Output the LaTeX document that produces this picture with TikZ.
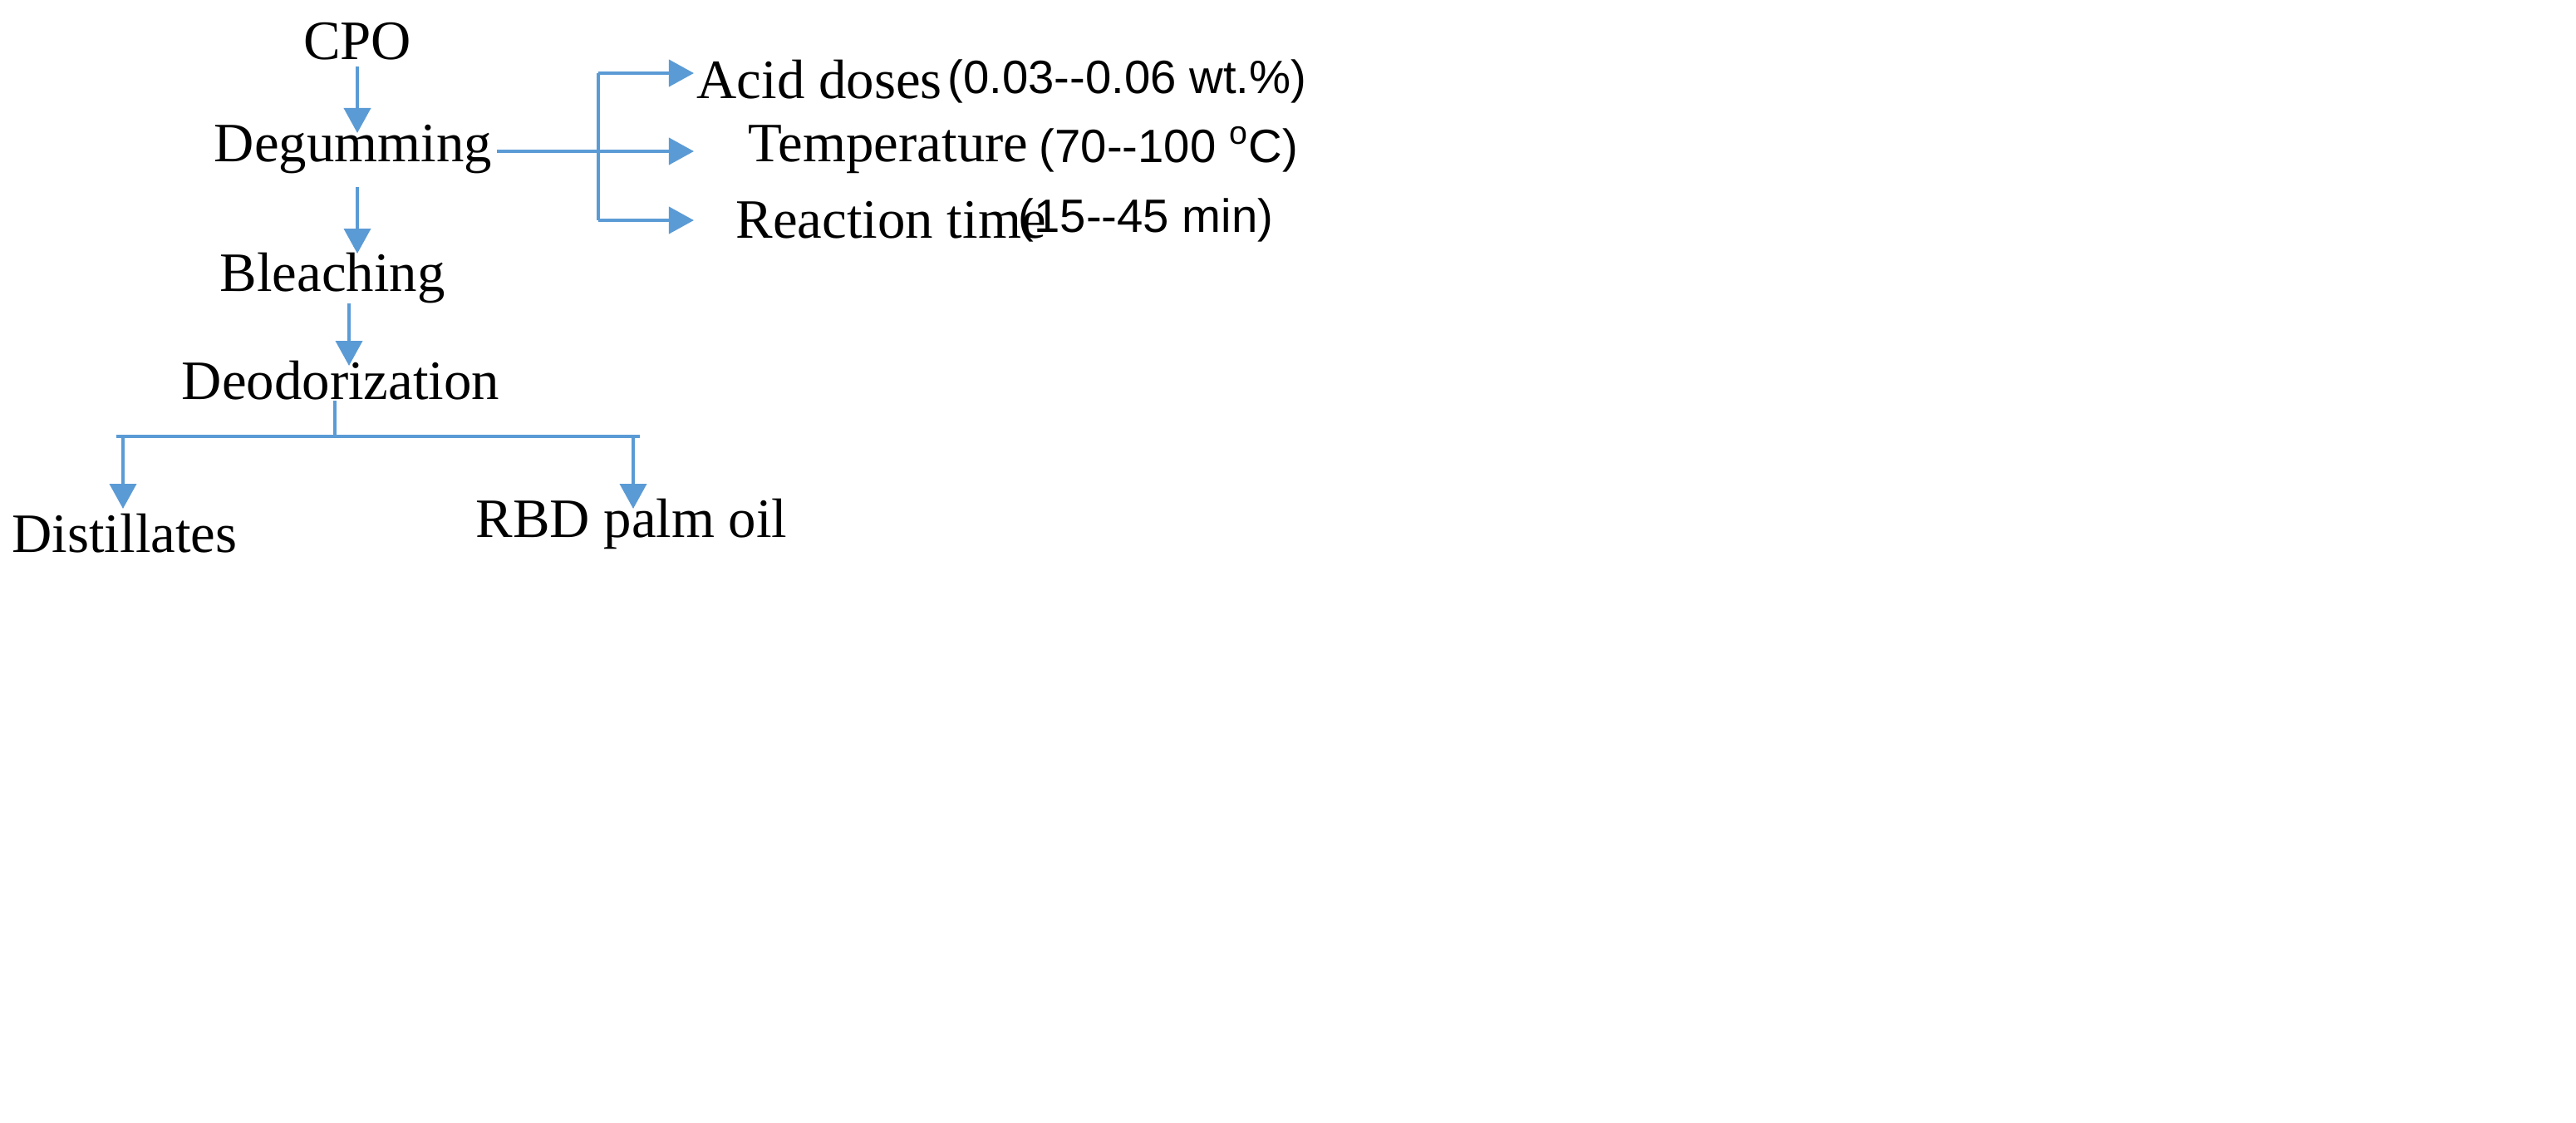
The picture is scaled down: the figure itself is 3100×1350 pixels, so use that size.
\documentclass[tikz,border=0pt]{standalone}
\usepackage{fontspec}
\setmainfont{Liberation Serif}
\newfontfamily\parfont{Liberation Sans}
\usetikzlibrary{arrows.meta,positioning}
\definecolor{flowblue}{RGB}{91,155,213}
\begin{document}
\begin{tikzpicture}[x=0.01cm,y=-0.01cm]
    \tikzstyle{stage} = [inner sep=0pt, font=\fontsize{19}{22}\selectfont]
    \tikzstyle{parname} = [inner sep=0pt, anchor=west, font=\fontsize{19}{22}\selectfont]
    \tikzstyle{condval} = [inner sep=0pt, anchor=west, font=\parfont\fontsize{16}{20}\selectfont]
    \tikzstyle{flowline} = [flowblue, line width=1.1pt]
    \tikzstyle{flowarrow} = [flowline, -{Triangle[length=0.3cm,width=0.32cm]}]
    \useasboundingbox (0,0) rectangle (3100,1350);

    \node [stage] (cpo) at (430,50) {CPO};
    \node [stage] (degum) at (425,180) {Degumming};
    \node [stage] (bleach) at (400,335) {Bleaching};
    \node [stage] (deodor) at (410,458) {Deodorization};
    \node [stage] (dist) at (150,642) {Distillates};
    \node [stage] (rbd) at (760,630) {RBD palm oil};

    \node [parname] (acid) at (838,96) {Acid doses};
    \node [parname] (temp) at (900,180) {Temperature};
    \node [parname] (time) at (885,265) {Reaction time};
    \node [condval] (acidr) at (1140,98) {(0.03--0.06 wt.\%)};
    \node [condval] (tempr) at (1250,180) {(70--100 \textsuperscript{o}C)};
    \node [condval] (timer) at (1225,265) {(15--45 min)};

    % degumming branch
    \coordinate (bt) at (720,88);
    \coordinate (bm) at (720,182);
    \coordinate (bb) at (720,265);
    \coordinate (dg) at (598,182);
    \draw [flowline] (dg) -- (bm);
    \draw [flowline] (bt) -- (bb);
    \draw [flowarrow] (bt) -- (835,88);
    \draw [flowarrow] (bm) -- (835,182);
    \draw [flowarrow] (bb) -- (835,265);

    % main line
    \draw [flowarrow] (430,80) -- (430,160);
    \draw [flowarrow] (430,225) -- (430,305);
    \draw [flowarrow] (420,365) -- (420,440);
    \coordinate (split) at (403,525);
    \draw [flowline] (403,482) -- (split);
    \draw [flowline] (140,525) -- (770,525);
    \draw [flowarrow] (148,525) -- (148,612);
    \draw [flowarrow] (762,525) -- (762,612);
\end{tikzpicture}
\end{document}
